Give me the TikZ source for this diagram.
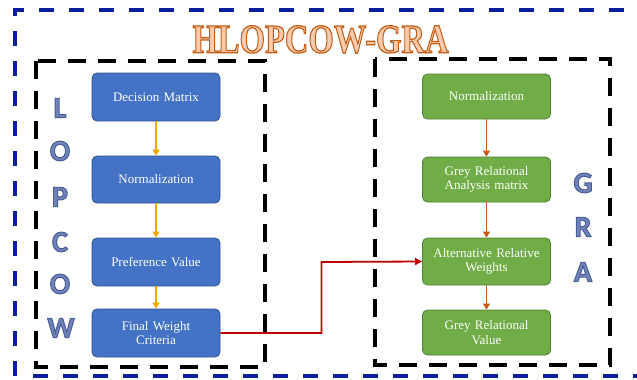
\documentclass[tikz,border=0pt]{standalone}
\usepackage{fontspec}
\usepackage{graphicx}
\setmainfont{Liberation Serif}
\newfontfamily\lettersfont{Carlito}
\usetikzlibrary{arrows.meta}
\definecolor{bluebox}{HTML}{4472C4}
\definecolor{blueedge}{HTML}{2F528F}
\definecolor{greenbox}{HTML}{70AD47}
\definecolor{greenedge}{HTML}{507E32}
\definecolor{outerblue}{HTML}{0A1EA0}
\definecolor{yelarrow}{HTML}{F0A800}
\definecolor{orarrow}{HTML}{C55A11}
\definecolor{redline}{HTML}{C00000}
\definecolor{titlefill}{HTML}{F8CBAD}
\definecolor{letfill}{HTML}{7084BA}
\tikzset{
  procbox/.style={rounded corners=5pt, line width=0.8pt, minimum width=128pt, minimum height=46pt,
    text width=124pt, align=center, text=white, font=\fontsize{13}{14.5}\selectfont, inner sep=2pt},
  bluestep/.style={procbox, fill=bluebox, draw=blueedge},
  greenstep/.style={procbox, fill=greenbox, draw=greenedge},
  groupbox/.style={draw=black, line width=3.4pt, dash pattern=on 18pt off 12pt},
  outerbox/.style={draw=outerblue, line width=3.4pt, dash pattern=on 15pt off 15pt},
  yarrow/.style={draw=yelarrow, line width=1.3pt, -{Triangle[length=6pt,width=7pt]}},
  oarrow/.style={draw=orarrow, line width=1.3pt, -{Triangle[length=6pt,width=7pt]}},
  redarrow/.style={draw=redline, line width=1.8pt, -{Triangle[length=7pt,width=7pt]}},
  bigletter/.style={font=\lettersfont\bfseries\fontsize{30}{30}\selectfont, inner sep=0pt, text=letfill},
}
% outlined text via PDF text rendering mode (fill + stroke)
\newcommand{\strokedtext}[3]{% stroke rgb, line width, text
  \special{pdf:literal direct 2 Tr #2 w #1 RG}#3\special{pdf:literal direct 0 Tr}}
\newcommand{\letterout}[1]{\strokedtext{0.290 0.361 0.588}{1.0}{#1}}
\begin{document}
\begin{tikzpicture}[x=1pt,y=-1pt]
\useasboundingbox (0,0) rectangle (637,380);
% outer frame
\draw[outerbox] (15,376) -- (15,10) -- (645,10);
\draw[outerbox] (33,376) -- (645,376);
% title
\node[inner sep=0pt, text=titlefill] (title) at (320.5,39.5)
  {\resizebox{256pt}{27pt}{\strokedtext{0.773 0.353 0.067}{0.3}{\bfseries HLOPCOW-GRA}}};
% group boxes
\draw[groupbox] (36,61) rectangle (265,367);
\draw[groupbox] (375,59) rectangle (610,365);
% LOPCOW / GRA letters
\node[bigletter] (l1) at (60,108) {\letterout{L}};
\node[bigletter] (l2) at (60,151) {\letterout{O}};
\node[bigletter] (l3) at (60,197) {\letterout{P}};
\node[bigletter] (l4) at (60,242) {\letterout{C}};
\node[bigletter] (l5) at (60,284) {\letterout{O}};
\node[bigletter] (l6) at (61,328) {\letterout{W}};
\node[bigletter] (g1) at (583,183) {\letterout{G}};
\node[bigletter] (g2) at (583,227) {\letterout{R}};
\node[bigletter] (g3) at (583,272) {\letterout{A}};
% left boxes
\node[bluestep, minimum height=48pt] (dm) at (156,97) {Decision Matrix};
\node[bluestep, minimum height=47pt] (nl) at (156,179.5) {Normalization};
\node[bluestep, minimum height=48pt] (pv) at (156,262) {Preference Value};
\node[bluestep, minimum height=48pt] (fw) at (156,333) {Final Weight\\Criteria};
% right boxes
\node[greenstep, minimum height=45pt] (nr) at (486.5,96.5) {Normalization};
\node[greenstep, minimum height=45pt] (gm) at (486.5,179.5) {Grey Relational\\Analysis matrix};
\node[greenstep, minimum height=47pt] (aw) at (486.5,261.5) {Alternative Relative\\Weights};
\node[greenstep, minimum height=45pt] (gv) at (486.5,332.5) {Grey Relational\\Value};
% arrows
\draw[yarrow] (dm) -- (nl);
\draw[yarrow] (nl) -- (pv);
\draw[yarrow] (pv) -- (fw);
\draw[oarrow] (nr) -- (gm);
\draw[oarrow] (gm) -- (aw);
\draw[oarrow] (aw) -- (gv);
\draw[redarrow] (fw.east) -- (321.5,333) -- (321.5,262) -- (aw.west);
\end{tikzpicture}
\end{document}
